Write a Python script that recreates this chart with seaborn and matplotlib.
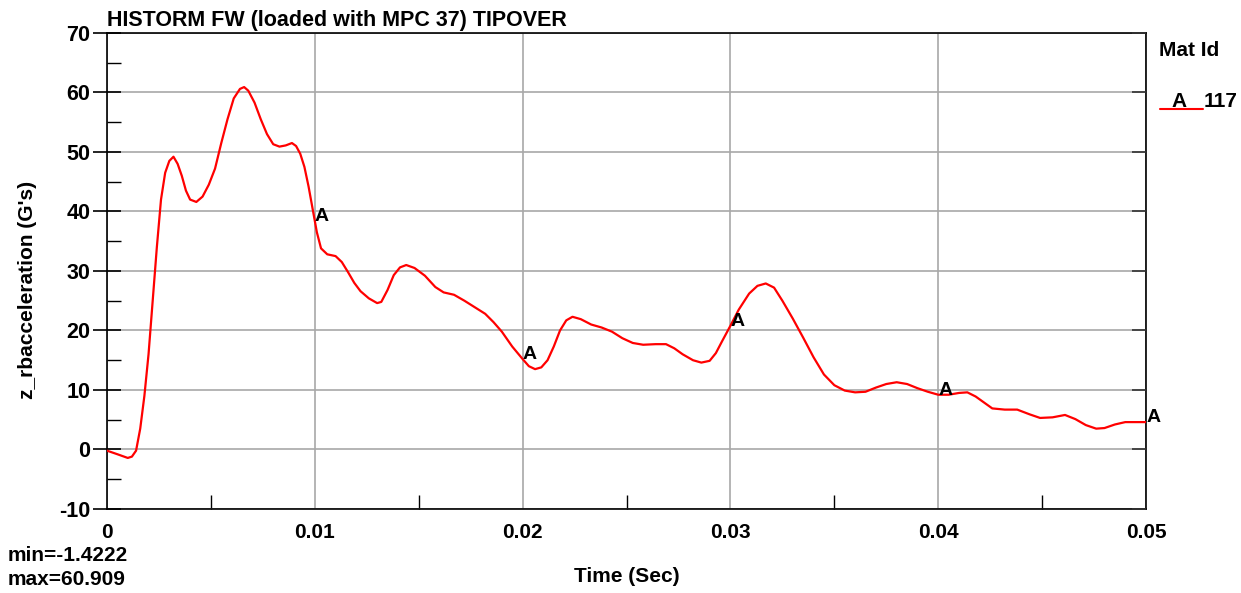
import numpy as np
import pandas as pd
import matplotlib
matplotlib.use("Agg")
import matplotlib.pyplot as plt
from matplotlib.lines import Line2D
from matplotlib.ticker import MultipleLocator, NullLocator
import seaborn as sns

# Acceleration history of material 117 (time in s, acceleration in G's)
time_s = [0.0000, 0.0005, 0.0010, 0.0012, 0.0014, 0.0016, 0.0018, 0.0020, 0.0022, 0.0024,
          0.0026, 0.0028, 0.0030, 0.0032, 0.0034, 0.0036, 0.0038, 0.0040, 0.0043, 0.0046,
          0.0049, 0.0052, 0.0055, 0.0058, 0.0061, 0.0064, 0.0066, 0.0068, 0.0071, 0.0074,
          0.0077, 0.0080, 0.0083, 0.0086, 0.0089, 0.0091, 0.0093, 0.0095, 0.0097, 0.0099,
          0.0101, 0.0103, 0.0106, 0.0110, 0.0113, 0.0116, 0.0119, 0.0122, 0.0126, 0.0130,
          0.0132, 0.0135, 0.0138, 0.0141, 0.0144, 0.0148, 0.0153, 0.0158, 0.0162, 0.0167,
          0.0172, 0.0177, 0.0182, 0.0186, 0.0190, 0.0195, 0.0200, 0.0203, 0.0206, 0.0209,
          0.0212, 0.0215, 0.0218, 0.0221, 0.0224, 0.0228, 0.0233, 0.0238, 0.0243, 0.0248,
          0.0253, 0.0258, 0.0264, 0.0269, 0.0273, 0.0277, 0.0282, 0.0286, 0.0290, 0.0293,
          0.0296, 0.0300, 0.0304, 0.0309, 0.0313, 0.0317, 0.0321, 0.0325, 0.0330, 0.0335,
          0.0340, 0.0345, 0.0350, 0.0355, 0.0360, 0.0365, 0.0370, 0.0375, 0.0380, 0.0385,
          0.0390, 0.0395, 0.0400, 0.0405, 0.0410, 0.0414, 0.0418, 0.0422, 0.0426, 0.0432,
          0.0438, 0.0444, 0.0449, 0.0455, 0.0461, 0.0466, 0.0471, 0.0476, 0.0480, 0.0485,
          0.0490, 0.0500]
accel_g = [-0.2, -0.8, -1.4222, -1.2, -0.2, 3.5, 9.0, 16.0, 25.0, 34.0,
           42.0, 46.5, 48.5, 49.2, 48.0, 46.0, 43.5, 42.0, 41.6, 42.5,
           44.5, 47.2, 51.5, 55.5, 59.0, 60.6, 60.909, 60.3, 58.3, 55.5,
           53.0, 51.3, 50.9, 51.1, 51.5, 51.0, 49.7, 47.5, 44.2, 40.3,
           36.5, 33.8, 32.8, 32.5, 31.5, 29.8, 28.0, 26.6, 25.4, 24.6,
           24.8, 26.8, 29.3, 30.6, 31.0, 30.5, 29.2, 27.3, 26.4, 26.0,
           25.0, 23.9, 22.8, 21.4, 19.8, 17.3, 15.2, 14.0, 13.5, 13.8,
           15.0, 17.3, 20.0, 21.7, 22.3, 21.9, 21.0, 20.5, 19.8, 18.7,
           17.9, 17.6, 17.7, 17.7, 17.0, 16.0, 15.0, 14.6, 14.9, 16.2,
           18.2, 20.8, 23.5, 26.2, 27.5, 27.9, 27.2, 25.0, 22.0, 18.8,
           15.5, 12.6, 10.8, 9.9, 9.6, 9.7, 10.4, 11.0, 11.3, 11.0,
           10.3, 9.7, 9.2, 9.2, 9.5, 9.6, 8.9, 7.9, 6.9, 6.7,
           6.7, 5.9, 5.3, 5.4, 5.8, 5.1, 4.1, 3.5, 3.6, 4.2,
           4.6, 4.6]

curve_label = "A"
mat_id = "117"
label_times = [0.01, 0.02, 0.03, 0.04, 0.05]
x_ticks = [0, 0.01, 0.02, 0.03, 0.04, 0.05]
x_tick_labels = ["0", "0.01", "0.02", "0.03", "0.04", "0.05"]
y_ticks = [-10, 0, 10, 20, 30, 40, 50, 60, 70]

df = pd.DataFrame({"Time (Sec)": time_s, "z_rbacceleration (G's)": accel_g})

sns.set_theme(style="white")
plt.rcParams["font.family"] = ["Liberation Sans", "DejaVu Sans"]
plt.rcParams["font.weight"] = "bold"
plt.rcParams["text.color"] = "black"
plt.rcParams["axes.labelcolor"] = "black"
plt.rcParams["xtick.color"] = "black"
plt.rcParams["ytick.color"] = "black"
plt.rcParams["axes.unicode_minus"] = False

fig = plt.figure(figsize=(12.41, 5.93), dpi=100)
ax = fig.add_axes([0.0862, 0.1417, 0.8373, 0.8027])

sns.lineplot(data=df, x="Time (Sec)", y="z_rbacceleration (G's)", ax=ax,
             color="#ff0000", linewidth=1.6, estimator=None, sort=False, zorder=3)

ax.set_xlim(0, 0.05)
ax.set_ylim(-10, 70)
ax.set_xticks(x_ticks)
ax.set_xticklabels(x_tick_labels)
ax.set_yticks(y_ticks)
ax.xaxis.set_minor_locator(MultipleLocator(0.005))
ax.yaxis.set_minor_locator(MultipleLocator(5))

ax.grid(True, which="major", color="#a8a8a8", linewidth=1.2, zorder=0)
for s in ax.spines.values():
    s.set_color("black")
    s.set_linewidth(1.2)

# left: in/out major ticks, inward minor ticks; bottom: only inward minor ticks
ax.tick_params(axis="y", which="major", direction="inout", length=20, width=1.2,
               left=True, right=False, labelsize=15.5, pad=2)
ax.tick_params(axis="y", which="minor", direction="in", length=10, width=1.0,
               left=True, right=False)
ax.tick_params(axis="x", which="major", length=0, bottom=True, top=False,
               labelsize=15, pad=10)
ax.tick_params(axis="x", which="minor", direction="in", length=10, width=1.0,
               bottom=True, top=False)
for lab in ax.get_xticklabels() + ax.get_yticklabels():
    lab.set_fontweight("bold")

# right spine carries short inward major ticks
ax_r = ax.twinx()
ax_r.set_ylim(ax.get_ylim())
ax_r.set_yticks(y_ticks)
ax_r.yaxis.set_minor_locator(NullLocator())
ax_r.tick_params(axis="y", which="major", direction="in", length=10, width=1.2,
                 color="#333333", right=True, left=False, labelright=False)
ax_r.grid(False)
for s in ax_r.spines.values():
    s.set_visible(False)

ax.set_xlabel("Time (Sec)", fontsize=15, fontweight="bold", labelpad=18)
ax.set_ylabel("z_rbacceleration (G's)", fontsize=15, fontweight="bold")
ax.yaxis.set_label_coords(-0.067, 0.46)

# Curve identifier letters placed on the curve
for t in label_times:
    v = float(np.interp(t, time_s, accel_g))
    ax.text(t, v, curve_label, fontsize=14, fontweight="bold", color="black",
            ha="left", va="baseline", zorder=4, clip_on=False)

ax.set_title("HISTORM FW (loaded with MPC 37) TIPOVER", loc="left", fontsize=15.5,
             fontweight="bold", pad=5, x=0.0)

# Legend block on the right
fig.text(0.934, 0.915, "Mat Id", fontsize=15, fontweight="bold", va="center")
fig.text(0.944, 0.829, curve_label, fontsize=15, fontweight="bold", va="center")
fig.text(0.970, 0.829, mat_id, fontsize=15, fontweight="bold", va="center")
fig.add_artist(Line2D([0.935, 0.969], [0.817, 0.817], color="#ff0000", linewidth=1.5,
                      transform=fig.transFigure))

# Extremes of the series
fig.text(0.006, 0.064, f"min={min(accel_g):.4f}", fontsize=15, fontweight="bold", va="center")
fig.text(0.006, 0.022, f"max={max(accel_g):.3f}", fontsize=15, fontweight="bold", va="center")

fig.savefig("out.png", dpi=100, facecolor="white")
